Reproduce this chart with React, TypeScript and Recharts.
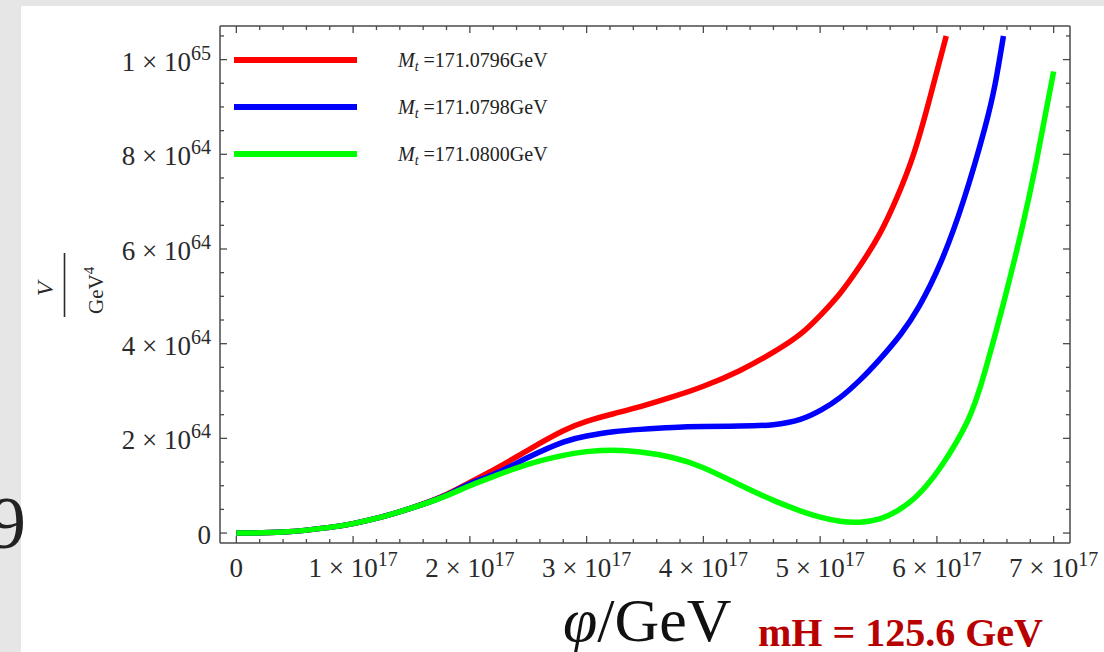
import React from "react";
import { LineChart, Line, XAxis, YAxis } from "recharts";

// phi in units of 1e17 GeV, V in units of 1e64 GeV^4
const redPhi = [0, 0.4, 0.8, 1.0, 1.23, 1.49, 1.77, 2.0, 2.23, 2.51, 2.8, 3.0, 3.23, 3.46, 3.74, 4.0, 4.31, 4.6, 4.83, 5.01, 5.17, 5.34, 5.51, 5.66, 5.8, 5.93, 6.08];
const redV = [0, 0.02, 0.12, 0.2, 0.33, 0.52, 0.78, 1.07, 1.37, 1.77, 2.16, 2.36, 2.52, 2.67, 2.88, 3.1, 3.43, 3.82, 4.2, 4.62, 5.06, 5.64, 6.32, 7.1, 8.0, 9.1, 10.5];

const bluePhi = [0, 0.4, 0.8, 1.0, 1.23, 1.49, 1.77, 2.0, 2.23, 2.51, 2.8, 3.0, 3.23, 3.46, 3.74, 4.0, 4.31, 4.6, 4.83, 5.01, 5.17, 5.34, 5.51, 5.69, 5.85, 6.03, 6.23, 6.41, 6.5, 6.57];
const blueV = [0, 0.02, 0.12, 0.2, 0.33, 0.52, 0.77, 1.04, 1.27, 1.61, 1.92, 2.05, 2.14, 2.19, 2.23, 2.25, 2.26, 2.29, 2.4, 2.6, 2.86, 3.23, 3.67, 4.2, 4.8, 5.7, 7.04, 8.55, 9.5, 10.5];

const greenPhi = [0, 0.4, 0.8, 1.0, 1.23, 1.49, 1.77, 2.0, 2.23, 2.51, 2.8, 3.0, 3.23, 3.46, 3.74, 4.0, 4.31, 4.6, 4.83, 5.01, 5.17, 5.34, 5.51, 5.66, 5.8, 5.91, 6.04, 6.26, 6.41, 6.57, 6.73, 6.84, 6.93, 7.0];
const greenV = [0, 0.02, 0.12, 0.2, 0.33, 0.52, 0.76, 1.0, 1.22, 1.46, 1.64, 1.72, 1.75, 1.71, 1.59, 1.38, 1.02, 0.69, 0.47, 0.33, 0.25, 0.23, 0.3, 0.47, 0.72, 1.0, 1.42, 2.35, 3.4, 4.85, 6.45, 7.7, 8.85, 9.75];

const legendLabels = ["171.0796GeV", "171.0798GeV", "171.0800GeV"];
const seriesColors = ["#ff0000", "#0000ff", "#00ff00"];

const xMajor = [0, 1, 2, 3, 4, 5, 6, 7];
const xMantissa = ["0", "1", "2", "3", "4", "5", "6", "7"];
const xExp = ["", "17", "17", "17", "17", "17", "17", "17"];
const yMajor = [0, 2, 4, 6, 8, 10];
const yMantissa = ["0", "2", "4", "6", "8", "1"];
const yExp = ["", "64", "64", "64", "64", "65"];

const xTicks = [...xMajor, ...xMajor.slice(0, -1).flatMap((m) => [0.2, 0.4, 0.6, 0.8].map((s) => +(m + s).toFixed(1)))].sort((a, b) => a - b);
const yTicks = [...yMajor, ...yMajor.flatMap((m) => [0.5, 1, 1.5].map((s) => m + s))].filter((v) => v <= 10.5).sort((a, b) => a - b);

const X_DOMAIN = [-0.14, 7.14];
const Y_DOMAIN = [-0.21, 10.71];

const W = 1104;
const H = 652;
const FONT = '"Liberation Serif", "Times New Roman", serif';
const AXIS = "#4a4a4a";
const TEXT = "#2a2a2a";

const toRows = (xs: number[], vs: number[]) => xs.map((x, i) => ({ x, v: vs[i] }));
const redData = toRows(redPhi, redV);
const blueData = toRows(bluePhi, blueV);
const greenData = toRows(greenPhi, greenV);

function SciLabel({ x, y, mant, exp, anchor }: any) {
  return (
    <text x={x} y={y} textAnchor={anchor} fontFamily={FONT} fontSize={27} fill={TEXT}>
      {exp ? `${mant} \u00d7 10` : mant}
      {exp ? (
        <tspan dy={-11} fontSize={20}>
          {exp}
        </tspan>
      ) : null}
    </text>
  );
}

function BottomTick(props: any) {
  const { x, y, payload } = props;
  const i = xMajor.indexOf(payload.value);
  const major = i >= 0;
  return (
    <g>
      <line x1={x} x2={x} y1={y} y2={y - (major ? 7 : 4)} stroke={AXIS} strokeWidth={1.3} />
      {major && <SciLabel x={x} y={y + 34} mant={xMantissa[i]} exp={xExp[i]} anchor="middle" />}
    </g>
  );
}

function TopTick(props: any) {
  const { x, y, payload } = props;
  const major = xMajor.indexOf(payload.value) >= 0;
  return <line x1={x} x2={x} y1={y} y2={y + (major ? 7 : 4)} stroke={AXIS} strokeWidth={1.3} />;
}

function LeftTick(props: any) {
  const { x, y, payload } = props;
  const i = yMajor.indexOf(payload.value);
  const major = i >= 0;
  return (
    <g>
      <line x1={x} x2={x + (major ? 7 : 4)} y1={y} y2={y} stroke={AXIS} strokeWidth={1.3} />
      {major && <SciLabel x={x - 9} y={y + 11} mant={yMantissa[i]} exp={yExp[i]} anchor="end" />}
    </g>
  );
}

function RightTick(props: any) {
  const { x, y, payload } = props;
  const major = yMajor.indexOf(payload.value) >= 0;
  return <line x1={x} x2={x - (major ? 7 : 4)} y1={y} y2={y} stroke={AXIS} strokeWidth={1.3} />;
}

export default function App() {
  const axisLine = { stroke: AXIS, strokeWidth: 1.5 };
  return (
    <div style={{ position: "fixed", left: 0, top: 0, width: W, height: H, background: "#e6e6e6", overflow: "hidden" }}>
      <div style={{ position: "absolute", left: 21, top: 6, right: 0, bottom: 0, background: "#ffffff" }} />
      <div style={{ position: "absolute", left: 0, top: 0 }}>
        <LineChart width={W} height={H} margin={{ top: 25, right: 33, bottom: 0, left: 0 }}>
          <XAxis dataKey="x" type="number" domain={X_DOMAIN} allowDataOverflow ticks={xTicks} interval={0} height={109} tickSize={0} tickMargin={0} tickLine={false} axisLine={axisLine} tick={<BottomTick />} />
          <XAxis xAxisId="top" orientation="top" dataKey="x" type="number" domain={X_DOMAIN} allowDataOverflow ticks={xTicks} interval={0} height={1} tickSize={0} tickMargin={0} tickLine={false} axisLine={axisLine} tick={<TopTick />} />
          <YAxis type="number" domain={Y_DOMAIN} allowDataOverflow ticks={yTicks} interval={0} width={220} tickSize={0} tickMargin={0} tickLine={false} axisLine={axisLine} tick={<LeftTick />} />
          <YAxis yAxisId="right" orientation="right" type="number" domain={Y_DOMAIN} allowDataOverflow ticks={yTicks} interval={0} width={1} tickSize={0} tickMargin={0} tickLine={false} axisLine={axisLine} tick={<RightTick />} />
          <Line data={redData} dataKey="v" type="natural" stroke={seriesColors[0]} strokeWidth={5.5} dot={false} isAnimationActive={false} />
          <Line data={blueData} dataKey="v" type="natural" stroke={seriesColors[1]} strokeWidth={5.5} dot={false} isAnimationActive={false} />
          <Line data={greenData} dataKey="v" type="natural" stroke={seriesColors[2]} strokeWidth={5.5} dot={false} isAnimationActive={false} />
          <Line data={greenData} dataKey="v" xAxisId="top" yAxisId="right" stroke="none" strokeWidth={0} dot={false} isAnimationActive={false} />
        </LineChart>
      </div>
      <svg width={W} height={H} style={{ position: "absolute", left: 0, top: 0, pointerEvents: "none" }}>
        {legendLabels.map((label, i) => (
          <g key={label}>
            <line x1={234} x2={357} y1={60 + 47 * i} y2={60 + 47 * i} stroke={seriesColors[i]} strokeWidth={6} />
            <text x={398} y={66.5 + 47 * i} fontFamily={FONT} fontSize={20} fill="#222">
              <tspan fontStyle="italic">M</tspan>
              <tspan fontStyle="italic" fontSize={14} dy={4}>t</tspan>
              <tspan dy={-4}>{` =${label}`}</tspan>
            </text>
          </g>
        ))}
        <g transform="translate(64.5,285) rotate(-90)" fontFamily={FONT} fill={TEXT}>
          <line x1={-32} x2={32} y1={0} y2={0} stroke={TEXT} strokeWidth={1.6} />
          <text x={-4} y={-12} textAnchor="middle" fontSize={24} fontStyle="italic">V</text>
          <text x={-29} y={38} fontSize={21}>
            GeV<tspan dy={-9} fontSize={15}>4</tspan>
          </text>
        </g>
        <text x={-11} y={548} fontFamily={FONT} fontSize={74} fill="#222">9</text>
        <text x={563} y={641} fontFamily={FONT} fontSize={62} fill="#111">
          <tspan fontStyle="italic">φ</tspan>/GeV
        </text>
        <text x={758} y={646} fontFamily={FONT} fontSize={40} fontWeight="bold" fill="#b80000">
          mH = 125.6 GeV
        </text>
      </svg>
    </div>
  );
}
